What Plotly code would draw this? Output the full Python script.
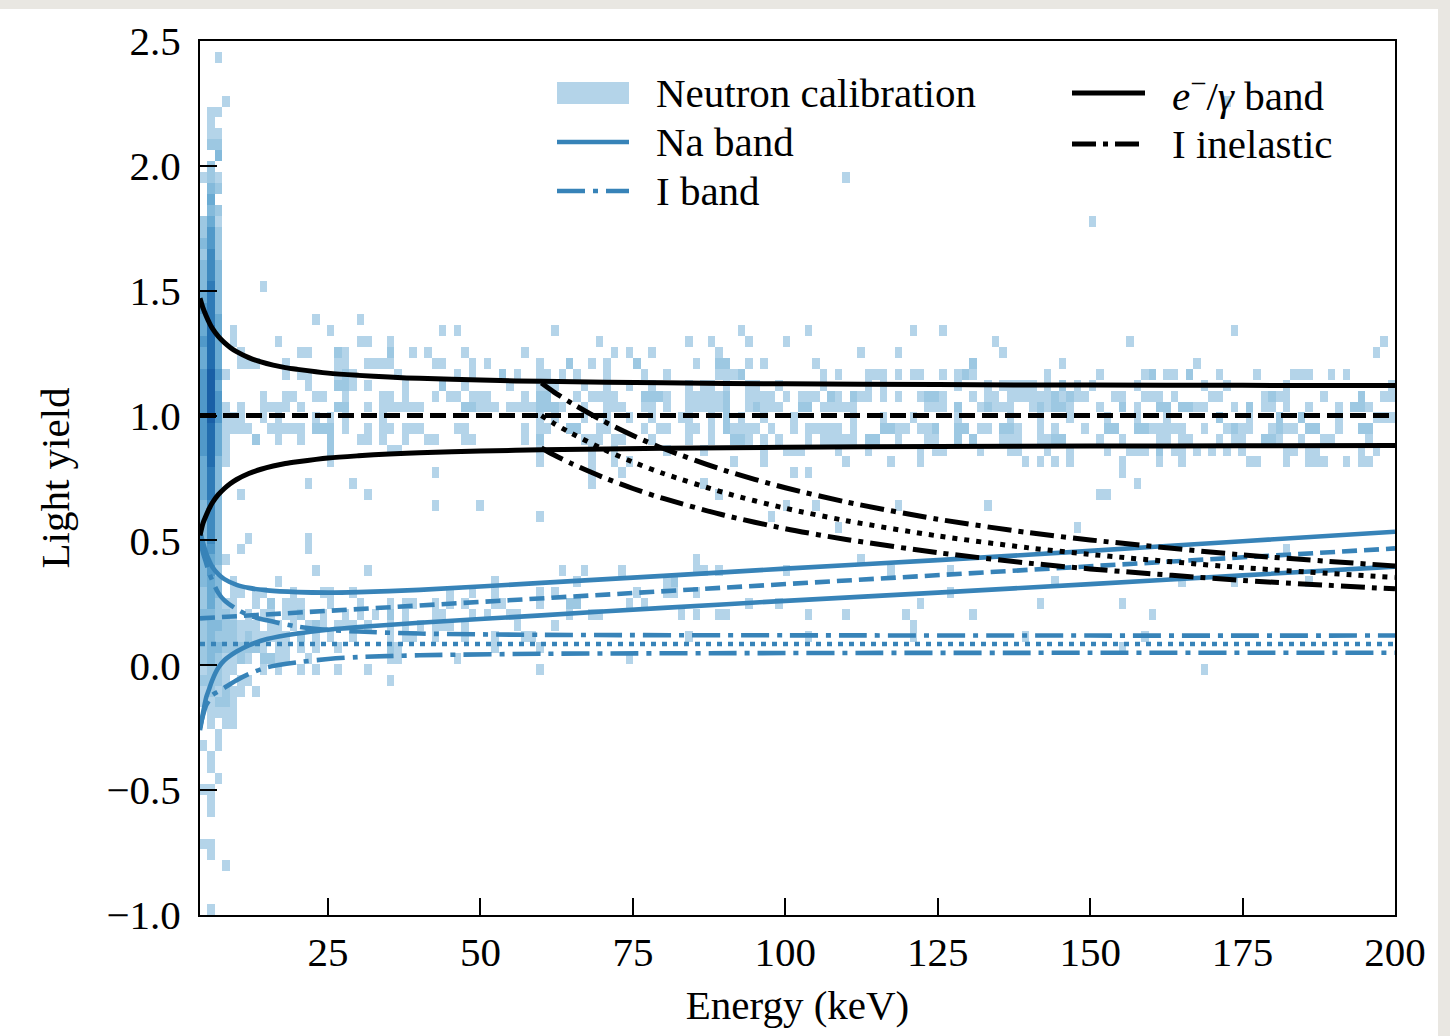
import plotly.graph_objects as go

# ---------------- histogram (neutron calibration) ----------------
# 160 energy bins on [4, 200] keV, 80 light-yield bins on [-1, 2.5]
E_MIN, E_BIN, N_EBINS = 4.0, 1.225, 160
LY_MIN, LY_BIN, N_LYBINS = -1.0, 0.04375, 80

# one string per light-yield row, top row (LY ~ 2.48) first.
# token "col" = count level 1, "col:lvl" = count level lvl (1..9)
hist_rows = [
    "",
    "2",
    "",
    "",
    "",
    "3 137",
    "1 2",
    "1",
    "1 2",
    "1:2 2:2",
    "2:3",
    "1:2",
    "0 1:2 2 86",
    "1:3 2:2",
    "1:4",
    "1:3 2:2",
    "0:2 1:4 2 119",
    "0:2 1:5 2:2",
    "0:3 1:5 2:2",
    "0:2 1:6 2:2",
    "0:3 1:6 2:3",
    "0:3 1:6 2:3",
    "0:3 1:7 2:3 8",
    "0:4 1:7 2:3",
    "0:5 1:7 2:3",
    "0:4 1:7 2:4 15 21",
    "0:4 1:8 2:4 4 17 32 34 47 72 81 95 99 138",
    "0:5 1:8 2:4 4 10 21 22 25 53 65 68 73 78 106 124 158",
    "0:4 1:8 2:4 5 13 14 18:2 19 25:2 28 30 35 43 55 57 60 69 88 93 107 157",
    "0:4 1:8 2:4 5 6 7 11 18 19 22 23 24 25 31 32 36 38 45 49:2 52 54 58:2 66 69:2 70:2 73 75 82 103:2 115 133",
    "0:5 1:9 2:5 3 11 13 14 18 19:2 20 26 34 36 40:2 42 45 46 48 50 54 59 62 69 70 71 72:2 83 85 89 90 91 93 95 96 99 101 102:2 103 113 120 126 127:2 129 130 132:2 136 141 146 147 148 151 153",
    "0:5 1:9 2:4 14 18:2 19:2 20 22 27 32:2 35 41 45 46 47 51 54 57 60 65 67 68 70 73 74 77 83 89 91 101 105 107 108 109 110 111 113 115:2 117 119 125 134 137 145 159",
    "0:5 1:9 2:5 8 11 12 15 16 19 24 25 27 31 33 34 36 37 38 43 45:2 46:2 50 52 53 54 55 59:2 60:2 61:2 62 65 66 67 68 69 70:2 73 74 75 76 78 80 81 82 84:2 85 87:2 88 89 91 93 96 97:2 98:2 99 103 105 106 108 109 110 111 112 113 114:2 115 116:2 117 118 122 123 126 127 128 130 135 136 142 143:2 144 145 150 155:2 158 159",
    "0:5 1:9 2:5 3 5 8 9 10 11 13 18:2 19:2 22 24 25 26 27 28 29 35:2 36:2 37 38 39 41 42 43 44 45:2 46:2 47:2 48 51 54 55 56 59 60 62 65 66 67 68 69 70:2 73 74:2 75 76 77 80:2 81:2 83 84 85 86 87 97 98 99 101:2 104 105:2 106 107 108 111 112:2 113 114:2 115:2 116 120 123:2 125 128:2 129:2 131:2 132:2 133 134 138 140:2 142 143 145 148 152 154:2 155:2 156",
    "0:5 1:9 2:5 3 4 5 8 10 15 17 19 24 45 47 51 54 57 60 64 65 68 70:2 72 75 79 87 91 95 101 108 112 116 121 125 129 136:2 140 144:2 147:2 152 157 158 159",
    "0:5 1:8 2:4 3 4 5 6 9 10 11 12 13 15:2 16:2 17:2 19 22 24 25 27 28 29 34 35 43 45 46 49:2 50:2 53 54 59 61 62 65 66 68 70:2 71 72 73 74 76 79 81 82 83 84 85 87 91:2 92:2 93 94 96 97 98:2 101:2 102:2 104 105 107:2 108:2 109 112 114 118 121:2 122:2 125:2 126:2 127 128 129 130 131 134 137 138:2 139 140 143 144:2 145 146 148:2 149:2 152 155:2 156:2",
    "0:5 1:8 2:4 3 7:2 10 13 17:2 21 22 24 27 30 31 35 36 43 45:2 51 52 53 55 56 60 65 68 71:2 72:2 73 75 77 81 83 84 85 86 87 89:2 90:2 93 97 98 101:2 103:2 107 108 109 112 113 114:2 115:2 120 123 128 129 131 132 136 138 139 142:2 143:2 144 147 150 151 156",
    "0:5 1:8 2:4 3 17:2 25 26 45 52 55 62 67 75 78 79 80 85 89 96 98 99 104 108 109 113 116 121 124 125 126 128:2 130 131 133 135 137 139 145 146 148 149 155 157",
    "0:4 1:8 2:3 3 17 45 52 55 57 71 75 86 92 96 110 112 114 116 123 128 131 140 141 145 148 149 150 153 155 156",
    "0:4 1:7 2:3 31 52 56 79 81 123",
    "0:4 1:7 2:3 14 20 52 67 125",
    "0:4 1:7 2:3 5 22 69 120 121",
    "0:3 1:6 2:3 31 37 78 82 93 105",
    "0:3 1:6 2:3 45 76",
    "0:3 1:6 2:3 85 117",
    "0:3 1:6 2:3 6 14",
    "0:3 1:5 2:3 5 14 145",
    "0:3 1:4 2:3 3 66 88",
    "0:3 1:5 2:2 15 22 48 51 56 66 67 69 78 92 100",
    "0:3 1:4 2:3 4 10 39 50 62 63:2 114 131 138 148",
    "0:2 1:4 2:3 4 5 7 8 12 16 17 20 33 36 39 45 47 58 62 63 66 100",
    "0:2 1:4 2:2 3 4 7 9:2 11 12 13 17 21 25 27 28 31 33 35 39 40 45 49:2 50:2 57 59 73 77 96 112 123",
    "0:3 1:3 2:2 3:2 4 6 8 9 11 12 13:2 16 19 21 23 25:2 27 31 32 36 38 41 42 49 52 53 64 66 69 70 81 86 94 103 127",
    "0:2 1:3 2:3 3:2 4:2 5 6 7 9 10 12 14 15:2 16 18 19 20 22 25 27 29 31 32 33 35 42 47 95",
    "0:2 1:3 2:2 3:2 4:2 5 6:2 7 8 9 10 11 13:2 15 17 20 25 27 28 31 35 39 43 44 65 81 95 110 126",
    "0:2 1:3 2:3 3:2 4:2 5:2 6:2 7:2 8 10 11 13 15 18 25:2 26 39 45 123",
    "0:2 1:3 2:2 3 4 5:2 6 8:2 9:2 10 11 14 25 26 34 57",
    "0 1:2 2:2 3 4 8 10 13 15 18 22 45 134",
    "0:2 1:2 2:2 3 5 6 25",
    "0 1:2 2 3:2 4 5 7",
    "0 1 2:2 3:2 4",
    "1 2 3 4",
    "1 3 4",
    "2",
    "0 2",
    "1",
    "1",
    "2",
    "0 1",
    "1",
    "1",
    "",
    "",
    "0 1",
    "1",
    "3",
    "",
    "",
    "",
    "1",
]

level_colors = ["#b4d4e9", "#9dc8e2", "#84badb", "#6aabd3", "#5199c9",
                "#3f8abf", "#2f7bb7", "#226dae", "#1a60a6"]

# ---------------- curves ----------------
E_eg = [4, 4.5, 5, 5.5, 6, 7, 8, 9, 10, 12, 14, 16, 18, 20, 25, 30, 35, 40,
        50, 60, 80, 100, 125, 150, 175, 200]
eg_upper = [1.47, 1.43, 1.40, 1.373, 1.35, 1.317, 1.292, 1.272, 1.256, 1.232,
            1.215, 1.202, 1.192, 1.185, 1.17, 1.161, 1.154, 1.149, 1.142,
            1.137, 1.131, 1.127, 1.124, 1.122, 1.121, 1.12]
eg_lower = [0.52, 0.57, 0.60, 0.627, 0.65, 0.683, 0.708, 0.728, 0.744, 0.768,
            0.785, 0.798, 0.808, 0.815, 0.83, 0.839, 0.846, 0.851, 0.858,
            0.863, 0.869, 0.873, 0.876, 0.878, 0.879, 0.88]
E_eg_c = [4, 200]
eg_center = [1.0, 1.0]

E_ii = [60, 62, 65, 70, 75, 80, 90, 100, 110, 125, 140, 150, 175, 200]
ii_center = [1.0, 0.969, 0.928, 0.867, 0.814, 0.768, 0.691, 0.629, 0.579,
             0.518, 0.47, 0.444, 0.391, 0.352]
ii_upper = [1.13, 1.095, 1.049, 0.98, 0.92, 0.868, 0.781, 0.711, 0.654,
            0.585, 0.531, 0.502, 0.442, 0.398]
ii_lower = [0.87, 0.843, 0.807, 0.754, 0.708, 0.668, 0.601, 0.547, 0.504,
            0.451, 0.409, 0.386, 0.34, 0.306]

E_na = [4, 4.5, 5, 5.5, 6, 7, 8, 10, 12, 15, 20, 25, 30, 40, 60, 80, 100,
        125, 150, 175, 200]
na_upper = [0.54, 0.49, 0.45, 0.42, 0.395, 0.365, 0.345, 0.322, 0.31, 0.30,
            0.293, 0.291, 0.293, 0.302, 0.33, 0.358, 0.387, 0.421, 0.458,
            0.497, 0.535]
na_lower = [-0.26, -0.19, -0.13, -0.095, -0.06, -0.01, 0.02, 0.055, 0.08,
            0.105, 0.127, 0.142, 0.153, 0.17, 0.2, 0.23, 0.258, 0.291, 0.325,
            0.36, 0.395]
E_na_c = [4, 50, 100, 150, 200]
na_center = [0.188, 0.254, 0.325, 0.397, 0.468]

E_ib = [4, 4.5, 5, 5.5, 6, 7, 8, 10, 12, 15, 20, 25, 30, 40, 60, 100, 150, 200]
ib_upper = [0.50, 0.45, 0.41, 0.37, 0.34, 0.29, 0.26, 0.225, 0.20, 0.18,
            0.155, 0.142, 0.135, 0.127, 0.122, 0.12, 0.119, 0.119]
ib_lower = [-0.25, -0.20, -0.16, -0.14, -0.12, -0.105, -0.09, -0.06, -0.035,
            -0.008, 0.012, 0.025, 0.033, 0.04, 0.046, 0.049, 0.05, 0.05]
E_ib_c = [4, 200]
ib_center = [0.085, 0.085]

x_ticks = [25, 50, 75, 100, 125, 150, 175, 200]
y_ticks = [-1.0, -0.5, 0.0, 0.5, 1.0, 1.5, 2.0, 2.5]
y_ticktext = ["\u22121.0", "\u22120.5", "0.0", "0.5", "1.0", "1.5", "2.0", "2.5"]

# ---------------- build ----------------
BLUE = "#3783b8"
BLACK = "#000000"
FONT = "Liberation Serif"
FS = 41

z = [[None] * N_EBINS for _ in range(N_LYBINS)]
for k, row in enumerate(hist_rows):
    for tok in row.split():
        if ":" in tok:
            c, lvl = tok.split(":")
            lvl = int(lvl)
        else:
            c, lvl = tok, 1
        ci = int(c)
        if 0 <= ci < N_EBINS:
            z[N_LYBINS - 1 - k][ci] = lvl

x_centers = [E_MIN + E_BIN * (i + 0.5) for i in range(N_EBINS)]
y_centers = [LY_MIN + LY_BIN * (j + 0.5) for j in range(N_LYBINS)]

cs = []
n = len(level_colors)
for i, c in enumerate(level_colors):
    cs.append([i / n, c])
    cs.append([(i + 1) / n, c])

fig = go.Figure()
fig.add_trace(go.Heatmap(x=x_centers, y=y_centers, z=z, colorscale=cs,
                         zmin=0.5, zmax=n + 0.5, showscale=False,
                         hoverongaps=False, name="Neutron calibration"))


def add_line(x, y, color, width, dash, name, spline=True):
    fig.add_trace(go.Scatter(
        x=x, y=y, mode="lines", name=name, showlegend=False,
        line=dict(color=color, width=width, dash=dash,
                  shape="spline" if spline else "linear", smoothing=0.8)))


BW, KW = 4.6, 5.0
D_BLUE_DD = "28px,8px,5px,8px"
D_BLACK_DD = "24px,7px,5px,7px"

add_line(E_na, na_upper, BLUE, BW, "solid", "Na band")
add_line(E_na, na_lower, BLUE, BW, "solid", "Na band")
add_line(E_na_c, na_center, BLUE, BW, "15px,7px", "Na band", spline=False)
add_line(E_ib, ib_upper, BLUE, BW, D_BLUE_DD, "I band")
add_line(E_ib, ib_lower, BLUE, BW, D_BLUE_DD, "I band")
add_line(E_ib_c, ib_center, BLUE, BW, "5px,6px", "I band", spline=False)
add_line(E_eg, eg_upper, BLACK, KW, "solid", "e/gamma band")
add_line(E_eg, eg_lower, BLACK, KW, "solid", "e/gamma band")
add_line(E_eg_c, eg_center, BLACK, KW, "16px,7px", "e/gamma band", spline=False)
add_line(E_ii, ii_upper, BLACK, KW, D_BLACK_DD, "I inelastic")
add_line(E_ii, ii_lower, BLACK, KW, D_BLACK_DD, "I inelastic")
add_line(E_ii, ii_center, BLACK, KW, "5px,7px", "I inelastic")

# ---------------- manual legend (pixel positions -> paper coords) ----------
PL, PR, PT, PB = 200, 1395, 41, 915


def px(xp):
    return (xp - PL) / (PR - PL)


def py(yp):
    return (PB - yp) / (PB - PT)


shapes = []
annotations = []

# page-like border strips (top and right)
shapes.append(dict(type="rect", xref="paper", yref="paper", layer="below",
                   x0=px(-10), x1=px(1460), y0=py(9), y1=py(-10),
                   fillcolor="#e9e7e2", line=dict(width=0)))
shapes.append(dict(type="rect", xref="paper", yref="paper", layer="below",
                   x0=px(1438), x1=px(1460), y0=py(1046), y1=py(-10),
                   fillcolor="#e9e7e2", line=dict(width=0)))

legend_items = [
    # (x_sym0, x_sym1, y, kind, color, dash, label)
    (557, 629, 93, "patch", level_colors[0], None, "Neutron calibration"),
    (557, 629, 142, "line", BLUE, "solid", "Na band"),
    (557, 629, 191, "line", BLUE, D_BLUE_DD, "I band"),
    (1072, 1145, 93, "line", BLACK, "solid",
     "<i>e</i><sup>\u2212</sup>/<i>\u03b3</i> band"),
    (1072, 1145, 144, "line", BLACK, D_BLACK_DD, "I inelastic"),
]
for x0, x1, yy, kind, col, dash, label in legend_items:
    if kind == "patch":
        shapes.append(dict(type="rect", xref="paper", yref="paper",
                           x0=px(x0), x1=px(x1), y0=py(yy + 11), y1=py(yy - 11),
                           fillcolor=col, line=dict(width=0)))
    else:
        shapes.append(dict(type="line", xref="paper", yref="paper",
                           x0=px(x0), x1=px(x1), y0=py(yy), y1=py(yy),
                           line=dict(color=col, width=BW if col == BLUE else KW,
                                     dash=dash)))
    annotations.append(dict(xref="paper", yref="paper", x=px(x1 + 25),
                            y=py(yy), xanchor="left", yanchor="middle",
                            text=label, showarrow=False,
                            font=dict(family=FONT, size=FS, color="black")))

fig.update_layout(
    width=1450, height=1036,
    margin=dict(l=PL, r=1450 - PR, t=PT, b=1036 - PB),
    paper_bgcolor="white", plot_bgcolor="white",
    showlegend=False,
    shapes=shapes, annotations=annotations,
    font=dict(family=FONT, size=FS, color="black"),
    xaxis=dict(range=[4, 200], tickvals=x_ticks, ticks="inside", ticklen=17,
               tickwidth=2, tickcolor="black", showline=True, linewidth=2,
               linecolor="black", mirror=True, showgrid=False, zeroline=False,
               tickfont=dict(family=FONT, size=FS, color="black"),
               ticklabelstandoff=0,
               title=dict(text="Energy (keV)", standoff=16,
                          font=dict(family=FONT, size=FS, color="black"))),
    yaxis=dict(range=[-1, 2.5], tickvals=y_ticks, ticktext=y_ticktext,
               ticks="inside", ticklen=17, tickwidth=2, tickcolor="black",
               showline=True, linewidth=2, linecolor="black", mirror=True,
               showgrid=False, zeroline=False,
               tickfont=dict(family=FONT, size=FS, color="black"),
               ticklabelstandoff=9,
               title=dict(text="Light yield", standoff=24,
                          font=dict(family=FONT, size=FS, color="black"))),
)

fig.write_html("out.html")
